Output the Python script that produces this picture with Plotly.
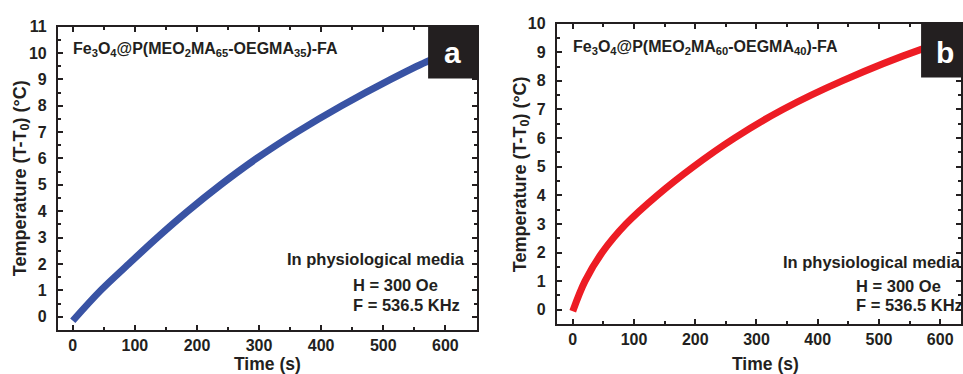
import plotly.graph_objects as go

# ---- data ----
time_a = [0, 45, 90, 136, 185, 238, 296, 361, 433, 512, 569, 600]
temp_a = [-0.15, 1.0, 2.0, 3.0, 4.0, 5.0, 6.0, 7.0, 8.0, 9.0, 9.66, 9.95]

time_b = [0, 20, 48, 87, 138, 197, 264, 343, 440, 569, 600]
temp_b = [-0.05, 1.0, 2.0, 3.0, 4.0, 5.0, 6.0, 7.0, 8.0, 9.1, 9.3]

label_a = "Fe<sub>3</sub>O<sub>4</sub>@P(MEO<sub>2</sub>MA<sub>65</sub>-OEGMA<sub>35</sub>)-FA"
label_b = "Fe<sub>3</sub>O<sub>4</sub>@P(MEO<sub>2</sub>MA<sub>60</sub>-OEGMA<sub>40</sub>)-FA"
media_text = "In physiological media"
field_text = "H = 300 Oe"
freq_text = "F = 536.5 KHz"
x_title = "Time (s)"
y_title = "Temperature (T-T<sub>0</sub>) (°C)"
x_ticks = [0, 100, 200, 300, 400, 500, 600]

W, H = 963, 374
FONT = "Liberation Sans, Arial, sans-serif"
INK = "#231f20"


def px(x):
    return x / W


def py(y):
    return 1 - y / H


fig = go.Figure()
fig.add_trace(go.Scatter(x=time_a, y=temp_a, mode="lines", line=dict(color="#3953a4", width=7, shape="spline"),
                         xaxis="x", yaxis="y", showlegend=False))
fig.add_trace(go.Scatter(x=time_b, y=temp_b, mode="lines", line=dict(color="#ed1c24", width=7, shape="spline"),
                         xaxis="x2", yaxis="y2", showlegend=False))

tickfont = dict(family=FONT, size=16, color=INK, weight="bold")


def xaxis(domain, rng, anchor):
    return dict(domain=domain, range=rng, anchor=anchor, tickvals=x_ticks, ticks="inside", ticklen=5,
                tickwidth=1.5, tickcolor=INK, showline=True, linecolor=INK, linewidth=2, mirror="allticks",
                showgrid=False, zeroline=False, tickfont=tickfont, ticklabelstandoff=0,
                minor=dict(dtick=50, tick0=0, ticks="inside", ticklen=3, tickwidth=1.5, tickcolor=INK, showgrid=False))


def yaxis(domain, rng, anchor, dtick_max):
    return dict(domain=domain, range=rng, anchor=anchor, tickvals=list(range(0, dtick_max + 1)), ticks="inside",
                ticklen=5, tickwidth=1.5, tickcolor=INK, showline=True, linecolor=INK, linewidth=2,
                mirror="allticks", showgrid=False, zeroline=False, tickfont=tickfont, ticklabelstandoff=6,
                minor=dict(dtick=0.5, tick0=0, ticks="inside", ticklen=3, tickwidth=1.5, tickcolor=INK, showgrid=False))


fig.update_layout(
    width=W, height=H, margin=dict(l=0, r=0, t=0, b=0),
    paper_bgcolor="white", plot_bgcolor="white",
    xaxis=xaxis([px(58), px(478)], [-24, 651], "y"),
    yaxis=yaxis([py(329), py(19)], [-0.5, 11], "x", 11),
    xaxis2=xaxis([px(558), 1.0], [-26, 634], "y2"),
    yaxis2=yaxis([py(323), py(16)], [-0.5, 10], "x2", 10),
)

shapes = [
    dict(type="rect", xref="paper", yref="paper", x0=px(429), x1=px(478), y0=py(72), y1=py(19),
         fillcolor=INK, line=dict(width=0), layer="above"),
    dict(type="rect", xref="paper", yref="paper", x0=px(923), x1=1.0, y0=py(71), y1=py(16),
         fillcolor=INK, line=dict(width=0), layer="above"),
]
fig.update_layout(shapes=shapes)

ann = []


def add_text(text, x, y, size, xanchor="left", yanchor="middle", color=INK, angle=0):
    ann.append(dict(text=text, x=px(x), y=py(y), xref="paper", yref="paper", showarrow=False,
                    xanchor=xanchor, yanchor=yanchor, textangle=angle,
                    font=dict(family=FONT, size=size, color=color, weight="bold")))


# panel a
add_text(label_a, 71, 42, 16)
add_text(media_text, 468, 256, 16.5, xanchor="right")
add_text(field_text, 352, 283, 16.5)
add_text(freq_text, 352, 304, 16.5)
add_text("a", 453, 45, 30, xanchor="center", color="white")
add_text(x_title, 268, 364, 17.5, xanchor="center")
add_text(y_title, 21, 174, 18, xanchor="center", angle=-90)

# panel b
add_text(label_b, 572, 40, 16)
add_text(media_text, 783, 260, 16.5)
add_text(field_text, 856, 284, 16.5)
add_text(freq_text, 856, 304, 16.5)
add_text("b", 947, 45, 30, xanchor="center", color="white")
add_text(x_title, 767, 364, 17.5, xanchor="center")
add_text(y_title, 522, 170, 18, xanchor="center", angle=-90)

fig.update_layout(annotations=ann)
fig.write_html("out.html", config={"displayModeBar": False},
               post_script="document.body.style.margin='0';document.body.style.padding='0';document.body.style.overflow='hidden';")
